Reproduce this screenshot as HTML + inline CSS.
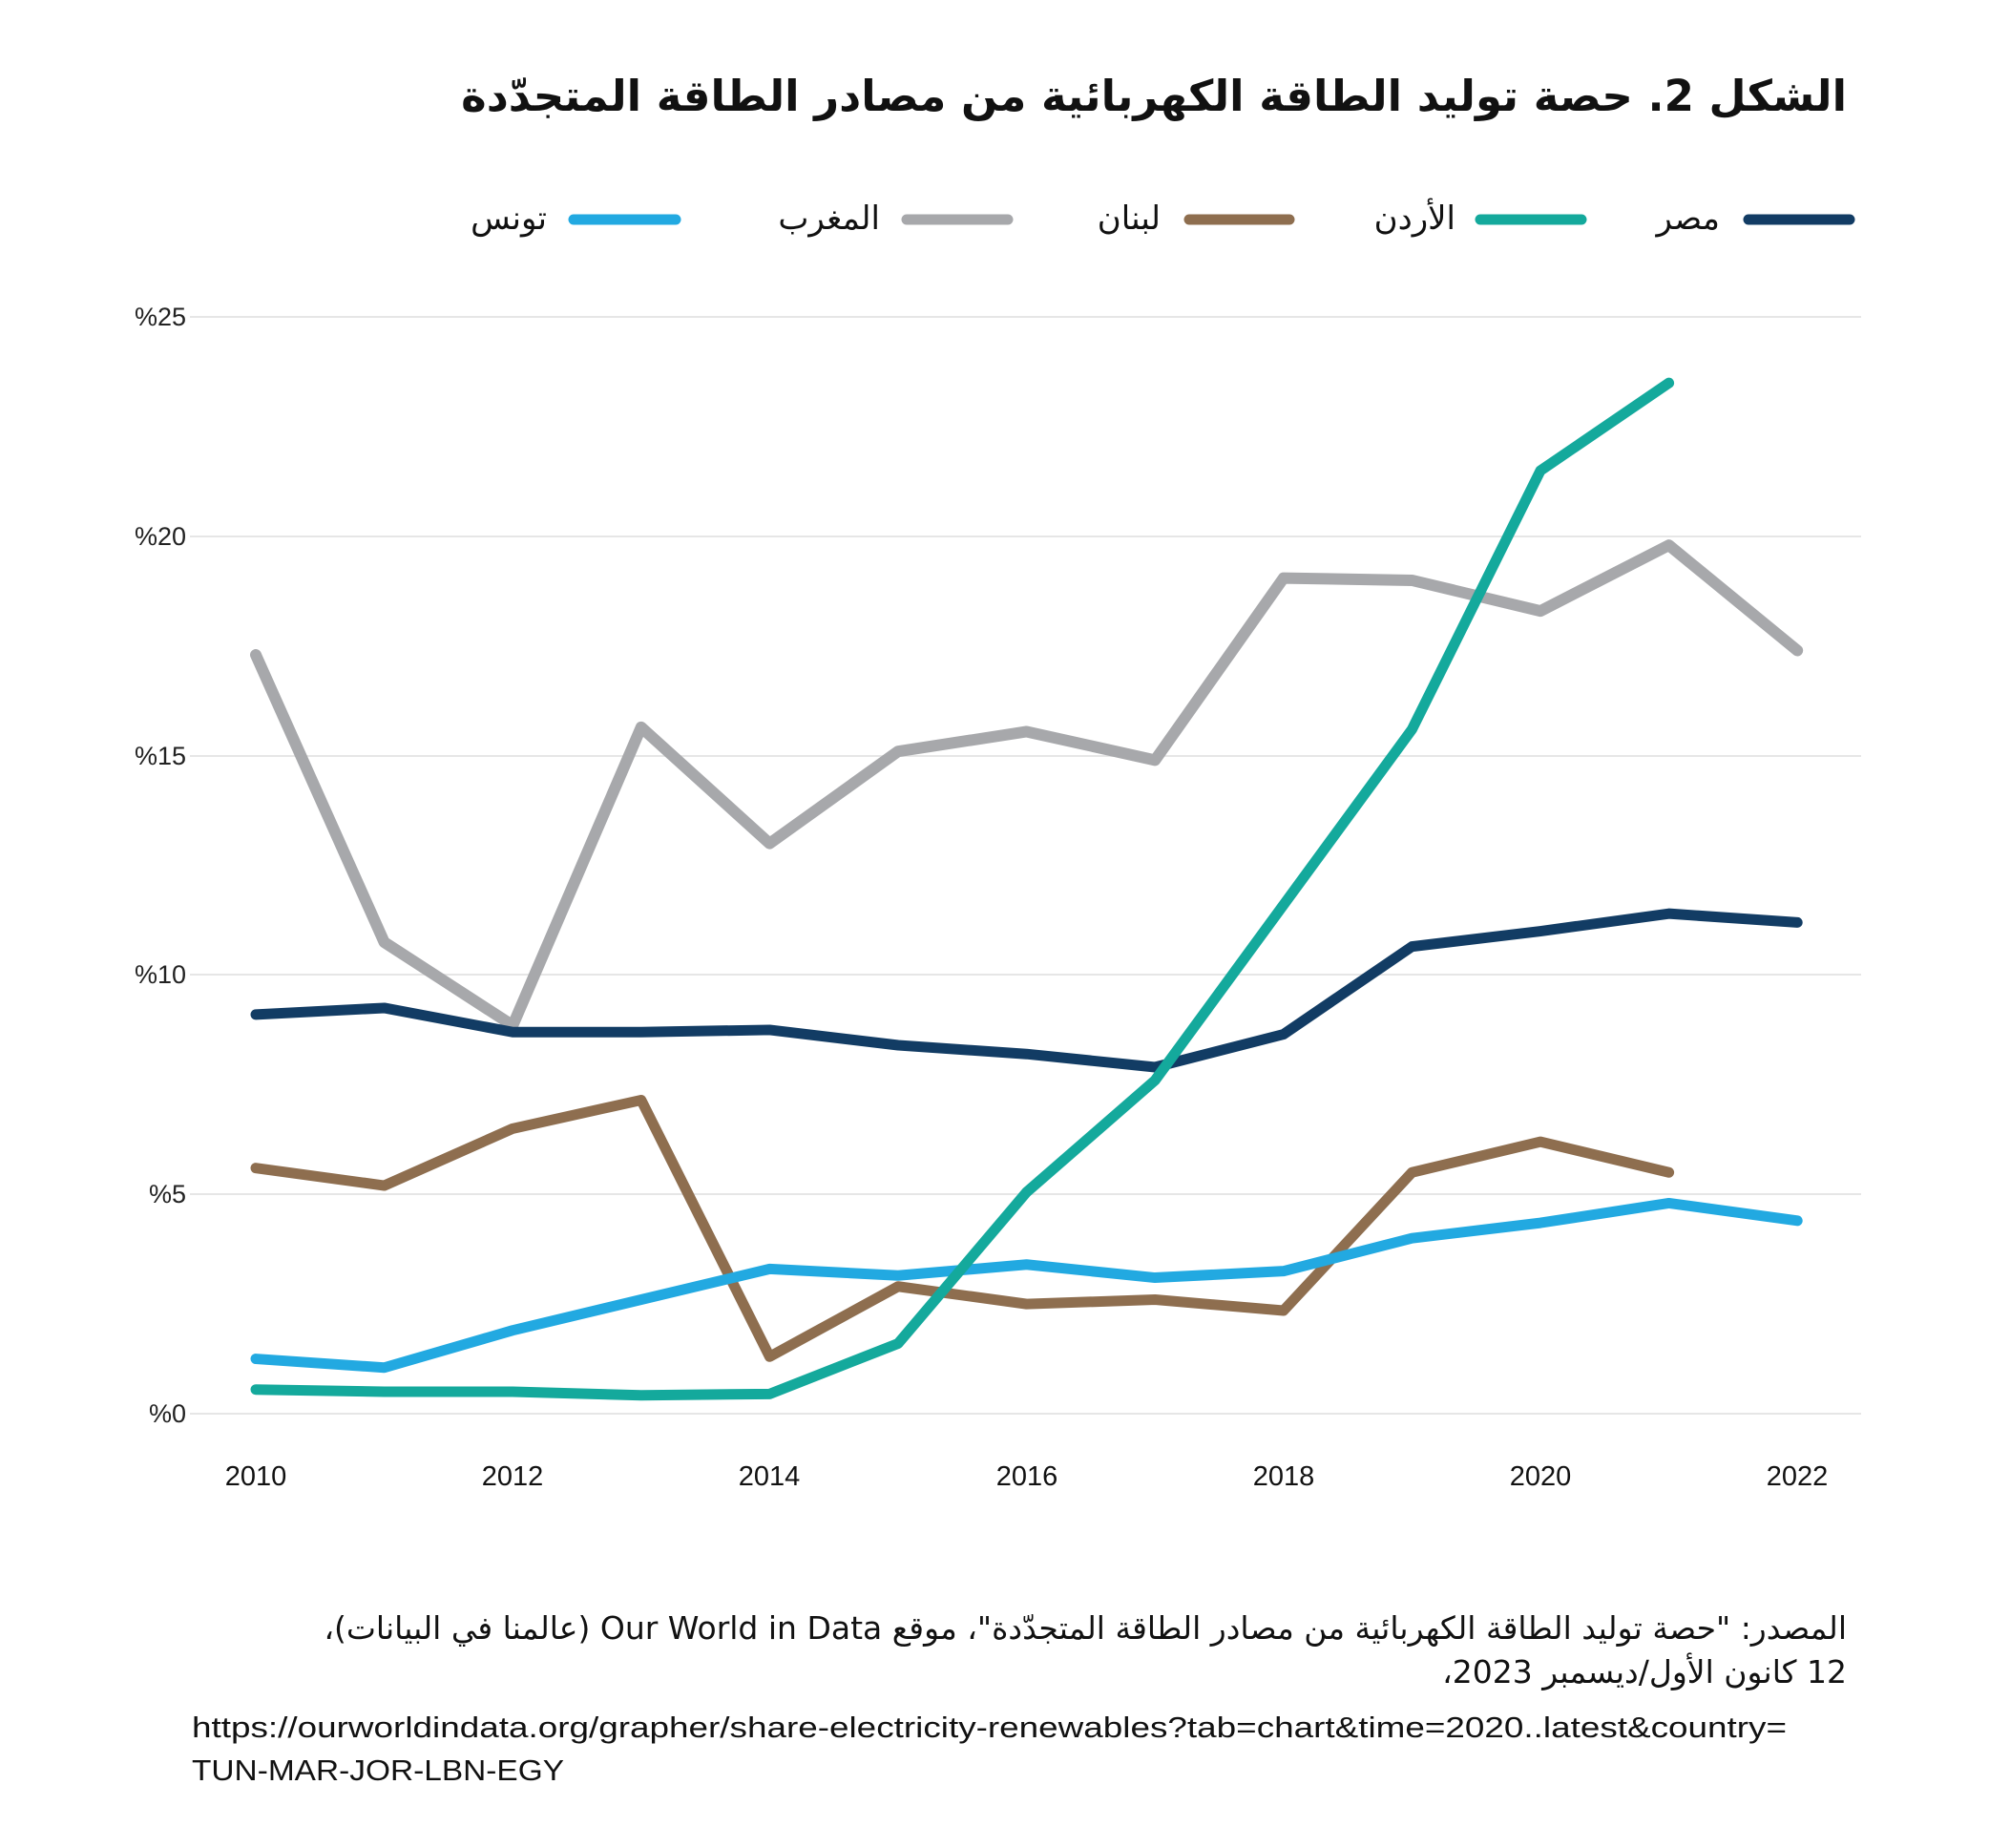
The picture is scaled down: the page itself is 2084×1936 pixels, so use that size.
<!DOCTYPE html>
<html><head><meta charset="utf-8">
<style>
html,body{margin:0;padding:0;background:#fff;}
body{width:2084px;height:1936px;position:relative;overflow:hidden;font-family:"DejaVu Sans","Liberation Sans",sans-serif;}
.ar{position:absolute;direction:rtl;white-space:nowrap;color:#111;font-family:"DejaVu Sans",sans-serif;}
svg{position:absolute;left:0;top:0;}
</style></head><body>
<svg width="2084" height="1936" viewBox="0 0 2084 1936">
<g stroke="#e6e6e6" stroke-width="2">
<line x1="199" x2="1950" y1="332" y2="332"/>
<line x1="199" x2="1950" y1="562" y2="562"/>
<line x1="199" x2="1950" y1="792" y2="792"/>
<line x1="199" x2="1950" y1="1021" y2="1021"/>
<line x1="199" x2="1950" y1="1251" y2="1251"/>
<line x1="199" x2="1950" y1="1481" y2="1481"/>
</g>
<g font-family="Liberation Sans, sans-serif" font-size="27" fill="#222" text-anchor="end">
<text x="195" y="341">%25</text>
<text x="195" y="571">%20</text>
<text x="195" y="801">%15</text>
<text x="195" y="1030">%10</text>
<text x="195" y="1260">%5</text>
<text x="195" y="1490">%0</text>
</g>
<g font-family="Liberation Sans, sans-serif" font-size="29" fill="#111" text-anchor="middle">
<text x="268" y="1556">2010</text>
<text x="537" y="1556">2012</text>
<text x="806" y="1556">2014</text>
<text x="1076" y="1556">2016</text>
<text x="1345" y="1556">2018</text>
<text x="1614" y="1556">2020</text>
<text x="1883" y="1556">2022</text>
</g>
<g fill="none" stroke-linecap="round" stroke-linejoin="round" stroke-width="11">
<line x1="1832" y1="230" x2="1938" y2="230" stroke="#123c64"/>
<line x1="1551" y1="230" x2="1657" y2="230" stroke="#14a99c"/>
<line x1="1246" y1="230" x2="1351" y2="230" stroke="#8e6e4f"/>
<line x1="950" y1="230" x2="1056" y2="230" stroke="#a7a8ab"/>
<line x1="601" y1="230" x2="708" y2="230" stroke="#22a9e1"/>
</g>
<g fill="none" stroke-linecap="round" stroke-linejoin="round" stroke-width="11" transform="matrix(134.6 0 0 -45.95 268 1481)">
<polyline vector-effect="non-scaling-stroke" stroke="#a7a8ab" stroke-width="12" points="0,17.3 1,10.75 2,8.85 3,15.65 4,13.0 5,15.1 6,15.55 7,14.9 8,19.05 9,19.0 10,18.3 11,19.8 12,17.4"/>
<polyline vector-effect="non-scaling-stroke" stroke="#8e6e4f" points="0,5.6 1,5.2 2,6.5 3,7.15 4,1.3 5,2.9 6,2.5 7,2.6 8,2.35 9,5.5 10,6.2 11,5.5"/>
<polyline vector-effect="non-scaling-stroke" stroke="#22a9e1" points="0,1.25 1,1.05 2,1.9 3,2.6 4,3.3 5,3.15 6,3.4 7,3.1 8,3.25 9,4.0 10,4.35 11,4.8 12,4.4"/>
<polyline vector-effect="non-scaling-stroke" stroke="#123c64" points="0,9.1 1,9.25 2,8.7 3,8.7 4,8.75 5,8.4 6,8.2 7,7.9 8,8.65 9,10.65 10,11.0 11,11.4 12,11.2"/>
<polyline vector-effect="non-scaling-stroke" stroke="#14a99c" points="0,0.55 1,0.5 2,0.5 3,0.42 4,0.45 5,1.6 6,5.05 7,7.6 8,11.6 9,15.6 10,21.5 11,23.5"/>
</g>
<text x="201" y="1820" font-family="Liberation Sans, sans-serif" font-size="31" fill="#111" textLength="1671" lengthAdjust="spacingAndGlyphs">https://ourworldindata.org/grapher/share-electricity-renewables?tab=chart&amp;time=2020..latest&amp;country=</text>
<text x="201" y="1865" font-family="Liberation Sans, sans-serif" font-size="31" fill="#111" textLength="390" lengthAdjust="spacingAndGlyphs">TUN-MAR-JOR-LBN-EGY</text>
</svg>
<div class="ar" style="right:149px;top:71px;font-size:45px;font-weight:bold;line-height:60px;">الشكل 2. حصة توليد الطاقة الكهربائية من مصادر الطاقة المتجدّدة</div>
<div class="ar" style="right:282px;top:205px;font-size:34px;line-height:48px;">مصر</div>
<div class="ar" style="right:559px;top:205px;font-size:34px;line-height:48px;">الأردن</div>
<div class="ar" style="right:868px;top:205px;font-size:34px;line-height:48px;">لبنان</div>
<div class="ar" style="right:1162px;top:205px;font-size:34px;line-height:48px;">المغرب</div>
<div class="ar" style="right:1511px;top:205px;font-size:34px;line-height:48px;">تونس</div>
<div class="ar" style="right:149px;top:1683px;font-size:33px;line-height:46px;">المصدر: "حصة توليد الطاقة الكهربائية من مصادر الطاقة المتجدّدة"، موقع Our World in Data (عالمنا في البيانات)،<br>12 كانون الأول/ديسمبر 2023،</div>
</body></html>
